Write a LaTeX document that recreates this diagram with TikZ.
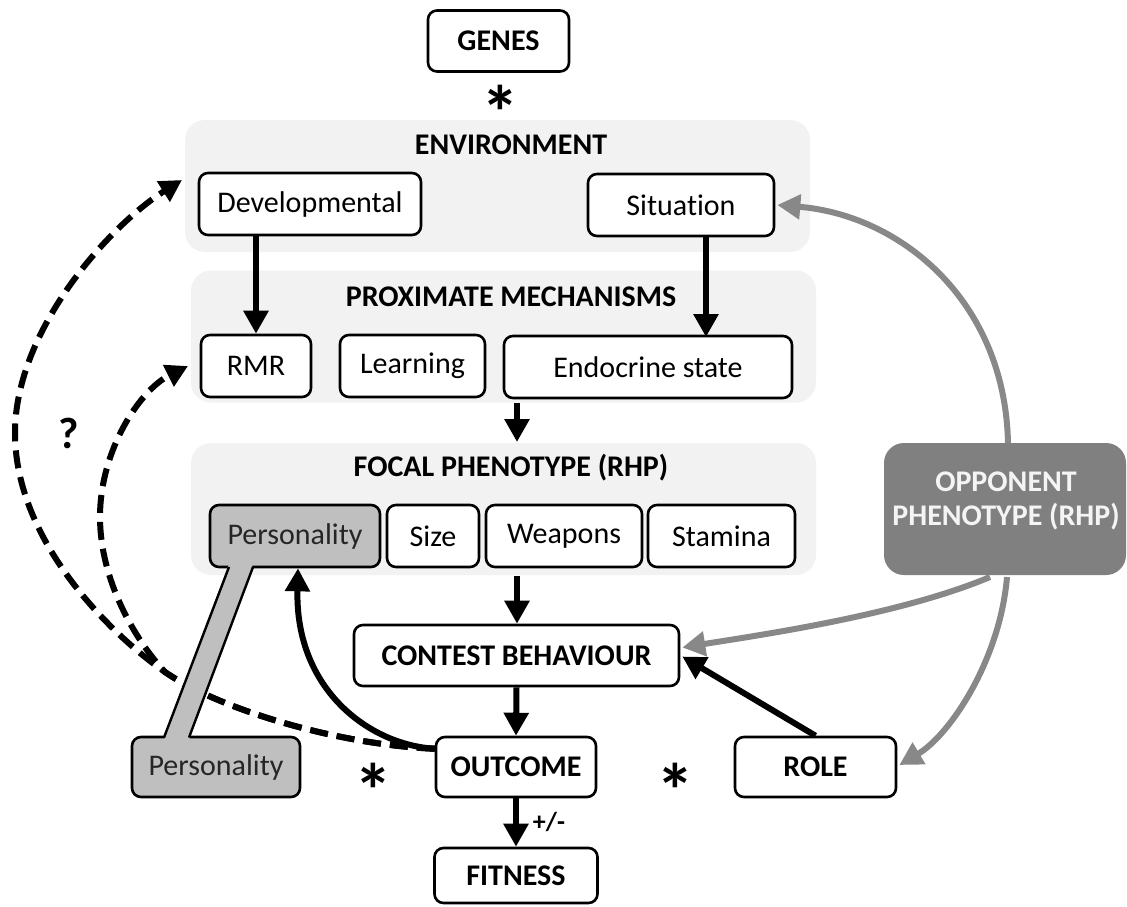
\documentclass[tikz,border=0pt]{standalone}
\usepackage{fontspec}
\setmainfont{Carlito}[Ligatures=NoCommon]
\usetikzlibrary{arrows.meta,calc}
\definecolor{panelgray}{HTML}{F2F2F2}
\definecolor{boxgray}{HTML}{BFBFBF}
\definecolor{oppgray}{HTML}{808080}
\definecolor{arrgray}{HTML}{888888}
\definecolor{darktext}{HTML}{262626}
\definecolor{lighttext}{HTML}{F4F4F4}
\newcommand{\fsreg}{\fontsize{30}{34}\selectfont}
\newcommand{\fsbold}{\fontsize{30}{34}\selectfont\bfseries}
\tikzset{
  panel/.style={fill=panelgray, rounded corners=20pt, inner sep=0pt, minimum width=625pt, minimum height=132pt},
  title/.style={font=\fsbold, inner sep=0pt},
  box/.style={draw=black, line width=2.6pt, rounded corners=9pt, fill=white, inner sep=0pt, minimum height=62pt, font=\fsreg},
  bbox/.style={box, font=\fsbold},
  gbox/.style={box, fill=boxgray, text=darktext},
  arr/.style={line width=6pt, -{Triangle[length=23pt,width=24pt]}},
  garr/.style={line width=6pt, draw=arrgray, -{Triangle[length=23pt,width=24pt]}},
  darr/.style={line width=6pt, dash pattern=on 18pt off 9pt, -{Triangle[length=22pt,width=23pt]}},
  star/.style={font=\fontsize{76}{76}\selectfont\bfseries, inner sep=0pt}
}
\begin{document}
\begin{tikzpicture}[x=1pt,y=-1pt]
\useasboundingbox (0,0) rectangle (1127,906);
\begin{scope}
\clip (0,0) rectangle (1127,906);
% panels
\node[panel] (env) at (497.5,186) {};
\node[panel] (prox) at (503.5,336.5) {};
\node[panel] (focal) at (503.5,509) {};
\node[title] (envt) at (511,145) {ENVIRONMENT};
\node[title] (proxt) at (511,297) {PROXIMATE MECHANISMS};
\node[title] (focalt) at (511,468) {FOCAL PHENOTYPE (RHP)};
% boxes
\node[bbox, minimum width=141pt, minimum height=61pt] (genes) at (498.5,41) {GENES};
\node[box, minimum width=222pt] (dev) at (310,204) {Developmental};
\node[box, minimum width=186pt] (sit) at (681,205) {Situation};
\node[box, minimum width=110pt] (rmr) at (256,366) {RMR};
\node[box, minimum width=145pt] (learn) at (412.5,366) {Learning};
\node[box, minimum width=288pt] (endo) at (648,367) {Endocrine state};
\node[gbox, minimum width=170pt] (pers1) at (295,536) {Personality};
\node[box, minimum width=92pt] (size) at (433,536) {Size};
\node[box, minimum width=156pt] (weap) at (564,536) {Weapons};
\node[box, minimum width=147pt] (stam) at (721.5,536) {Stamina};
\node[bbox, minimum width=325pt, minimum height=61pt] (contest) at (516.5,655.5) {CONTEST BEHAVIOUR};
\node[bbox, minimum width=160pt, minimum height=60pt] (outcome) at (516,767) {OUTCOME};
\node[bbox, minimum width=161pt, minimum height=60pt] (role) at (815.5,767) {ROLE};
\node[bbox, minimum width=163pt, minimum height=55pt] (fitness) at (516,875.5) {FITNESS};
\node[gbox, minimum width=168pt, minimum height=60pt] (pers2) at (216,767) {Personality};
\node[fill=oppgray, rounded corners=20pt, minimum width=242pt, minimum height=132pt, inner sep=0pt] (opp) at (1005,509) {};
\node[font=\fsbold, text=lighttext, align=center, inner sep=0pt] (opptext) at (1006,501) {OPPONENT\\PHENOTYPE (RHP)};
% stars and labels
\node[star] (s1) at (500,112) {*};
\node[star] (s2) at (373,790) {*};
\node[star] (s3) at (675,790) {*};
\node[font=\fontsize{44}{44}\selectfont\bfseries, inner sep=0pt] (q) at (69,433) {?};
% dashed arrows
\coordinate (ostart) at ($(outcome.north west)+(0,13)$);
\draw[darr] (ostart) .. controls (340,745) and (220,710) .. (165,672)
  .. controls (110,634) and (15,540) .. (15,433)
  .. controls (15,330) and (110,225) .. (182,180);
\draw[darr] (ostart) .. controls (340,745) and (220,710) .. (165,672)
  .. controls (135,640) and (100,580) .. (100,517)
  .. controls (100,450) and (140,390) .. (188,366);
% band joining the two Personality boxes
\fill[boxgray] (229,564) -- (253,564) -- (189,740) -- (164,740) -- cycle;
\draw[line width=2.4pt] (229,567) -- (164,737.5) (253,567) -- (189,737.5);
% black arrows
\draw[arr] (rmr.north |- dev.south) -- (rmr.north);
\draw[arr] (706,237) -- (706,337);
\draw[arr] (517,403) -- (517,442);
\draw[arr] (517,576) -- (contest.north -| 517,0);
\draw[arr] (contest.south) -- (outcome.north);
\draw[arr] (outcome.south) -- (fitness.north);
\node[font=\fontsize{26}{26}\selectfont\bfseries, inner sep=0pt] (pm) at (549,822) {+/-};
\draw[arr] (role.north) -- ($(contest.east)+(2,1)$);
\draw[arr] (ostart) .. controls (370,745) and (295,690) .. ($(pers1.south)+(3,0)$);
% gray arrows
\draw[garr] (1008,443) .. controls (1005,300) and (900,215) .. ($(sit.east)+(2,0)$);
\draw[garr] (990,577) .. controls (900,615) and (760,635) .. ($(contest.east)+(2,-8)$);
\draw[garr] (1007,577) .. controls (1000,660) and (950,735) .. ($(role.east)+(2,-2)$);
\end{scope}
\end{tikzpicture}
\end{document}
